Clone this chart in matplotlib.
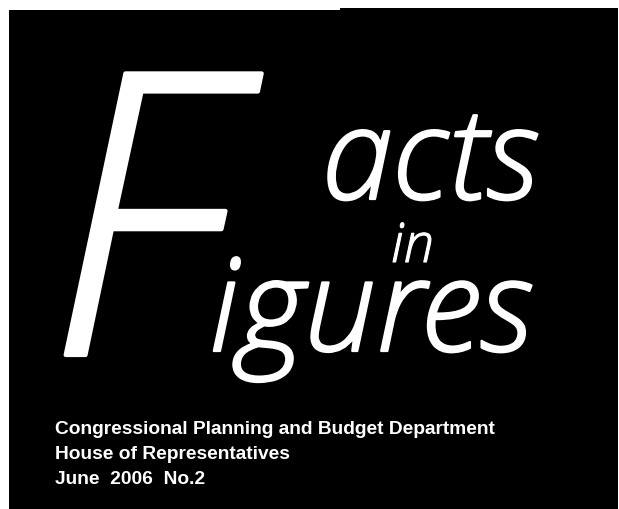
#!/usr/bin/env python3
import matplotlib
matplotlib.use("Agg")
import matplotlib.pyplot as plt
import matplotlib.patheffects as pe

# cover texts
title_parts = ["F", "acts", "in", "igures"]
subtitle_lines = [
    "Congressional Planning and Budget Department",
    "House of Representatives",
    "June  2006  No.2",
]

big = "Open Sans"
small = "Liberation Sans"

W, H = 619, 510
fig = plt.figure(figsize=(W / 100, H / 100), dpi=100)
ax = fig.add_axes([0, 0, 1, 1])
ax.set_xlim(0, W)
ax.set_ylim(H, 0)
ax.axis("off")
fig.patch.set_facecolor("white")

# black panel with the small step at the top
ax.fill([9, 340, 340, 618, 618, 9], [11, 11, 9, 9, H, H], color="black", lw=0)

# big italic title, light face thickened a little with an outline
def title(x, y, s, size, thick):
    ax.text(x, y, s, fontsize=size, color="white", family=big, style="italic",
            weight="light", va="baseline", ha="left",
            path_effects=[pe.withStroke(linewidth=thick, foreground="white")])

title(46, 356, title_parts[0], 284, 3.0)
title(322, 200, title_parts[1], 92, 1.6)
title(391, 263, title_parts[2], 39, 0.8)
title(209, 352, title_parts[3], 93, 1.6)

# publisher lines
for i, line in enumerate(subtitle_lines):
    ax.text(55, 434 + 25 * i, line, color="white", fontsize=13.8, family=small,
            weight="bold", va="baseline", ha="left")

fig.savefig("out.png", dpi=100, facecolor="white")
